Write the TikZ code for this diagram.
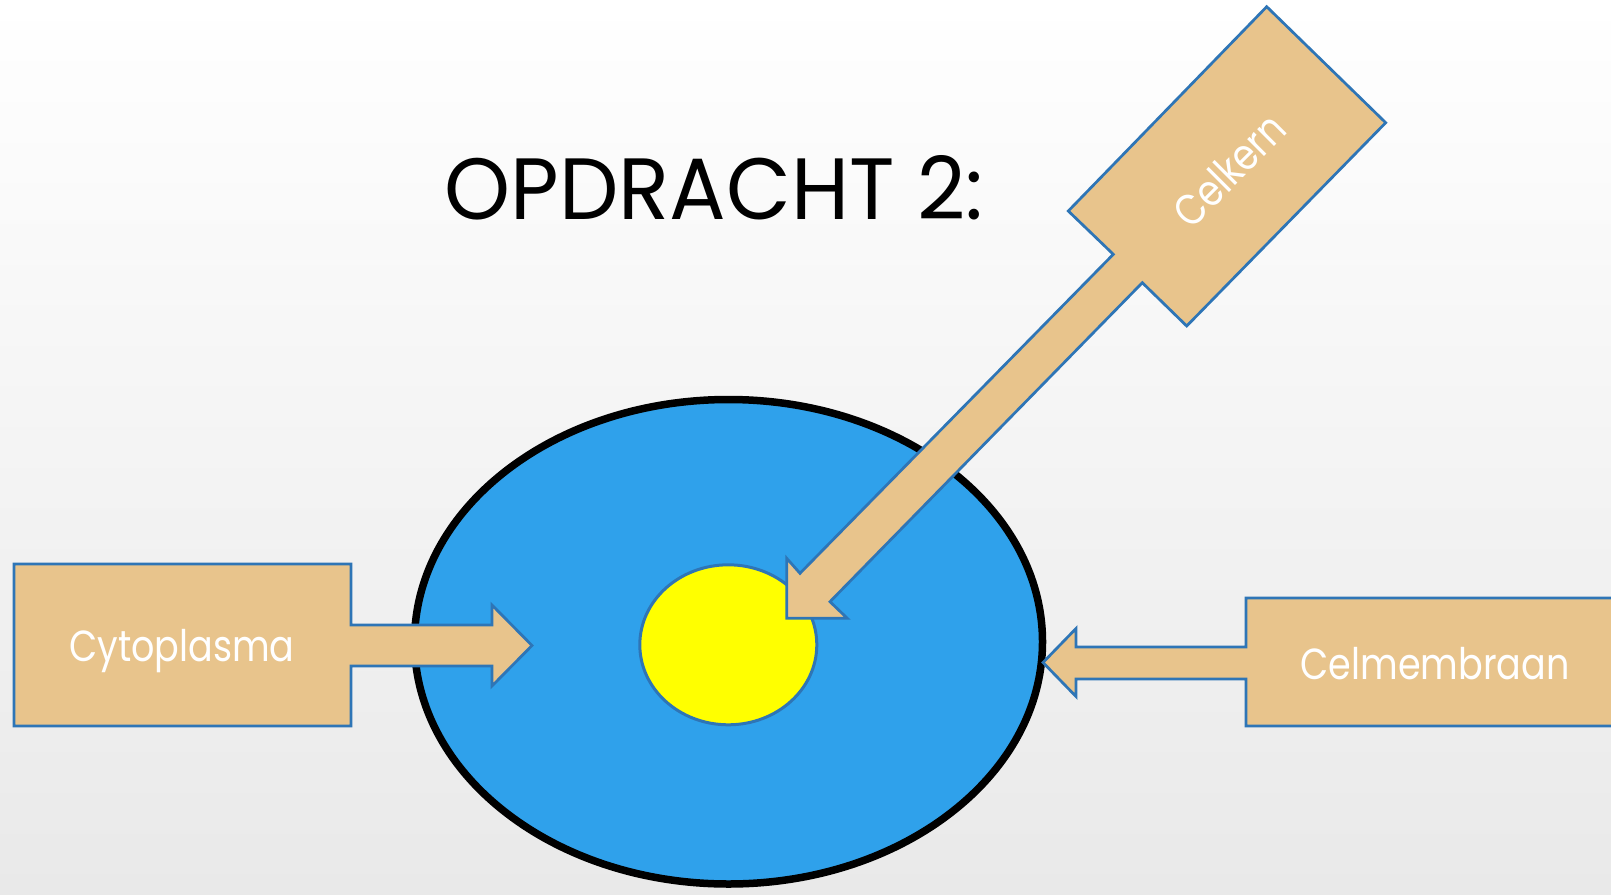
\documentclass[tikz,border=0pt]{standalone}
\usepackage{fontspec}
\setmainfont{Poppins}
\newfontfamily\titlefont{Poppins}[FakeStretch=0.965]
\newfontfamily\lblfont{Poppins}[FakeStretch=0.84]
\definecolor{tanfill}{RGB}{232,196,140}
\definecolor{edgeblue}{RGB}{46,117,182}
\definecolor{cellblue}{RGB}{47,161,235}
\definecolor{bggray}{RGB}{233,233,233}
\definecolor{nucyellow}{RGB}{255,255,0}
\tikzset{
  calloutarrow/.style={fill=tanfill, draw=edgeblue, line width=2.75pt, line join=miter},
  lbl/.style={text=white, inner sep=0pt, font=\lblfont\fontsize{43.5}{46}\selectfont},
  titletext/.style={text=black, inner sep=0pt, font=\titlefont\fontsize{87}{90}\selectfont}
}
\begin{document}
\begin{tikzpicture}[x=1pt,y=-1pt]
\clip (0,0) rectangle (1611,894);
\shade[top color=white, middle color={rgb,255:red,252;green,252;blue,252}, bottom color=bggray] (0,0) rectangle (1611,894);
% cell
\draw[fill=cellblue, draw=black, line width=7.5pt] (728.5,641.75) ellipse [x radius=314, y radius=242.25];
% nucleus
\draw[fill=nucyellow, draw=edgeblue, line width=3pt] (728.3,644.8) ellipse [x radius=88.5, y radius=80];
% Cytoplasma arrow
\draw[calloutarrow] (14,564) -- (351,564) -- (351,625) -- (492,625) -- (492,605) -- (532,645.5)
  -- (492,686) -- (492,666) -- (351,666) -- (351,726) -- (14,726) -- cycle;
% Celmembraan arrow
\draw[calloutarrow] (1640,598) -- (1246,598) -- (1246,647) -- (1076,647) -- (1076,628.5) -- (1043,662.5)
  -- (1076,696.5) -- (1076,679) -- (1246,679) -- (1246,726) -- (1640,726) -- cycle;
% Celkern arrow
\draw[calloutarrow] (786.7,618.3) -- (786.7,558.3) -- (800,573.3) -- (1113.3,254.3) -- (1068.3,211)
  -- (1266.7,6.7) -- (1385.7,122.7) -- (1186.7,326) -- (1142.3,282.7) -- (830,601.7) -- (847.3,618.3) -- cycle;
% texts
\node[titletext, anchor=base] (title) at (714,219) {OPDRACHT 2:};
\node[lbl, anchor=base] (cyto) at (182,661.7) {Cytoplasma};
\node[lbl, anchor=base] (memb) at (1435,679) {Celmembraan};
\node[lbl, rotate=45] (kern) at (1229,170) {Celkern};
\end{tikzpicture}
\end{document}
